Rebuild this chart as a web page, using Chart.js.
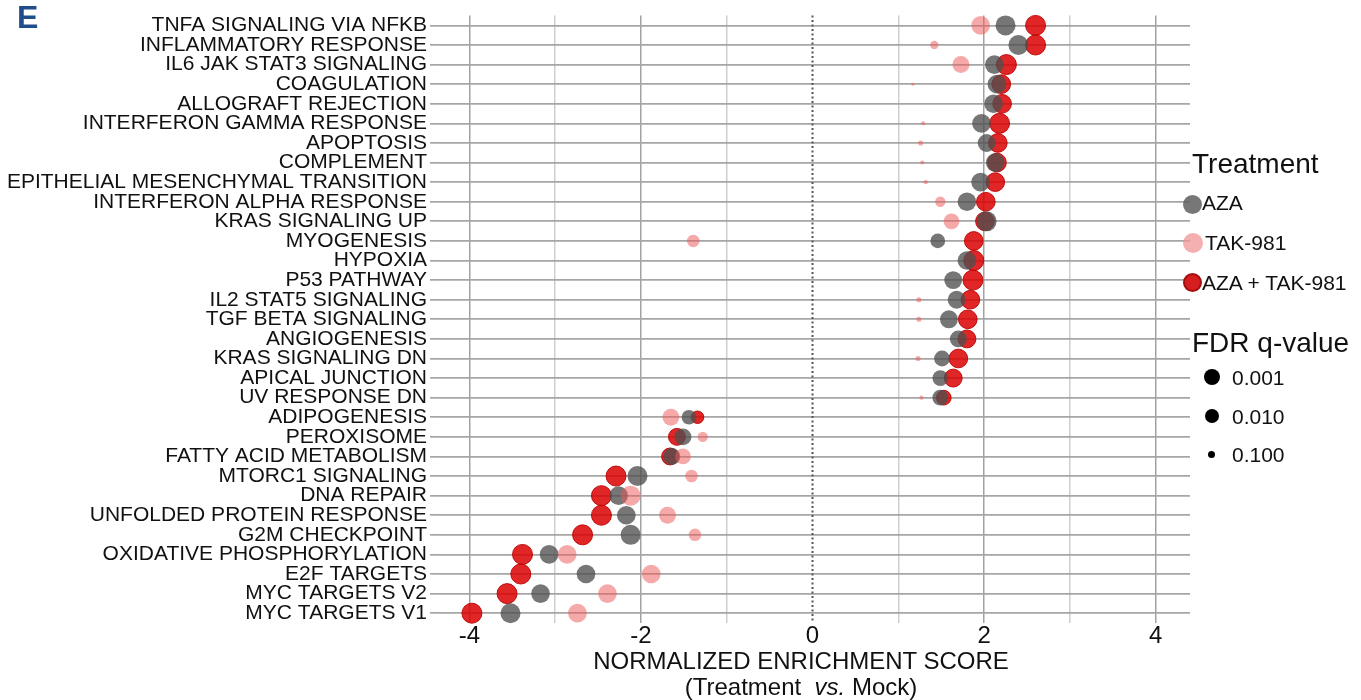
<!DOCTYPE html>
<html>
<head>
<meta charset="utf-8">
<script src="https://cdn.jsdelivr.net/npm/chart.js@4.4.1/dist/chart.umd.min.js"></script>
<style>
  html, body { margin: 0; padding: 0; background: #fff; }
  body { width: 1361px; height: 700px; position: relative; overflow: hidden;
         font-family: "Liberation Sans", Arial, sans-serif; color: #111; }
  #chart { position: absolute; left: 0; top: 0; }
  .abs { position: absolute; white-space: nowrap; }
  .panel { left: 17px; top: 0px; font-size: 32px; line-height: 34px; font-weight: bold; color: #1f4e8a; }
  .xtitle { left: 551px; width: 500px; top: 648px; text-align: center; font-size: 24px; line-height: 26px; }
  .lgtitle { font-size: 28px; line-height: 28px; left: 1192px; }
  .lgtext { font-size: 21px; line-height: 21px; }
  .dot { position: absolute; border-radius: 50%; box-sizing: border-box; }
</style>
</head>
<body>
<canvas id="chart" width="1361" height="700"></canvas>

<div class="abs panel">E</div>
<div class="abs xtitle">NORMALIZED ENRICHMENT SCORE<br>(Treatment&nbsp; <i>vs.</i> Mock)</div>

<div class="abs lgtitle" style="top:150px">Treatment</div>
<div class="dot" style="left:1183px; top:195px; width:19px; height:19px; background:rgba(95,95,95,0.85)"></div>
<div class="abs lgtext" style="left:1202px; top:192px">AZA</div>
<div class="dot" style="left:1183px; top:233px; width:20px; height:20px; background:rgba(240,150,150,0.75)"></div>
<div class="abs lgtext" style="left:1205px; top:232px">TAK-981</div>
<div class="dot" style="left:1183px; top:273px; width:19px; height:19px; background:rgb(214,30,30); border:2px solid rgb(165,15,15)"></div>
<div class="abs lgtext" style="left:1202px; top:272px">AZA + TAK-981</div>

<div class="abs lgtitle" style="top:329px">FDR q-value</div>
<div class="dot" style="left:1204px; top:369px; width:16px; height:16px; background:#000"></div>
<div class="abs lgtext" style="left:1232px; top:367px">0.001</div>
<div class="dot" style="left:1205px; top:409px; width:14px; height:14px; background:#000"></div>
<div class="abs lgtext" style="left:1232px; top:406px">0.010</div>
<div class="dot" style="left:1208px; top:451px; width:7px; height:7px; background:#000"></div>
<div class="abs lgtext" style="left:1232px; top:444px">0.100</div>

<script>
// hallmark gene sets, top to bottom
const pathways = [
  "TNFA SIGNALING VIA NFKB", "INFLAMMATORY RESPONSE", "IL6 JAK STAT3 SIGNALING",
  "COAGULATION", "ALLOGRAFT REJECTION", "INTERFERON GAMMA RESPONSE", "APOPTOSIS",
  "COMPLEMENT", "EPITHELIAL MESENCHYMAL TRANSITION", "INTERFERON ALPHA RESPONSE",
  "KRAS SIGNALING UP", "MYOGENESIS", "HYPOXIA", "P53 PATHWAY", "IL2 STAT5 SIGNALING",
  "TGF BETA SIGNALING", "ANGIOGENESIS", "KRAS SIGNALING DN", "APICAL JUNCTION",
  "UV RESPONSE DN", "ADIPOGENESIS", "PEROXISOME", "FATTY ACID METABOLISM",
  "MTORC1 SIGNALING", "DNA REPAIR", "UNFOLDED PROTEIN RESPONSE", "G2M CHECKPOINT",
  "OXIDATIVE PHOSPHORYLATION", "E2F TARGETS", "MYC TARGETS V2", "MYC TARGETS V1"
];

// NES and FDR q-values, null = not shown
const azaNES = [2.25, 2.40, 2.12, 2.15, 2.11, 1.97, 2.03, 2.13, 1.96, 1.80,
  2.03, 1.46, 1.80, 1.64, 1.68, 1.59, 1.70, 1.51, 1.49, 1.49,
  -1.44, -1.51, -1.64, -2.04, -2.26, -2.17, -2.12, -3.07, -2.64, -3.17, -3.52];
const azaFDR = [0.0001, 0.0001, 0.0002, 0.0002, 0.0002, 0.0002, 0.0003, 0.0002, 0.0002, 0.0002,
  0.0001, 0.0016, 0.0002, 0.0003, 0.0003, 0.0003, 0.0005, 0.0009, 0.0009, 0.0009,
  0.0016, 0.0005, 0.0005, 0.0001, 0.0002, 0.0002, 0.0001, 0.0002, 0.0002, 0.0002, 0.0001];

const takNES = [1.96, 1.42, 1.73, 1.17, null, 1.29, 1.26, 1.28, 1.32, 1.49,
  1.62, -1.39, null, null, 1.24, 1.24, null, 1.23, null, 1.27,
  -1.65, -1.28, -1.51, -1.41, -2.12, -1.69, -1.37, -2.86, -1.88, -2.39, -2.74];
const takFDR = [0.0002, 0.045, 0.0005, 0.72, null, 0.41, 0.24, 0.41, 0.41, 0.015,
  0.0009, 0.005, null, null, 0.24, 0.24, null, 0.24, null, 0.41,
  0.0005, 0.015, 0.0009, 0.005, 0.0001, 0.0005, 0.005, 0.0002, 0.0002, 0.0002, 0.0002];

const comboNES = [2.60, 2.60, 2.26, 2.20, 2.21, 2.18, 2.16, 2.15, 2.13, 2.02,
  2.01, 1.88, 1.88, 1.87, 1.84, 1.81, 1.80, 1.70, 1.64, 1.53,
  -1.34, -1.58, -1.66, -2.29, -2.46, -2.46, -2.68, -3.38, -3.40, -3.56, -3.97];
const comboFDR = [0.0001, 0.0001, 0.0001, 0.0002, 0.0002, 0.0001, 0.0002, 0.0002, 0.0002, 0.0002,
  0.0002, 0.0002, 0.0001, 0.0001, 0.0002, 0.0002, 0.0003, 0.0002, 0.0003, 0.0016,
  0.005, 0.0005, 0.0005, 0.0001, 0.0001, 0.0001, 0.0001, 0.0001, 0.0001, 0.0001, 0.0001];

const xLabelTicks = [-4, -2, 0, 2, 4];

// bubble radius grows with -log10(q), capped at q = 1e-4
function bubbleRadius(q) {
  const s = Math.min(4, -Math.log10(q));
  return 1.2 + 2.2 * s;
}

function toPoints(nes, fdr) {
  return pathways
    .map((p, i) => (nes[i] == null ? null : { x: nes[i], y: p, r: bubbleRadius(fdr[i]) }))
    .filter(Boolean);
}

const zeroLine = {
  id: "zeroLine",
  beforeDatasetsDraw(chart) {
    const { ctx, chartArea, scales } = chart;
    const x0 = scales.x.getPixelForValue(0);
    ctx.save();
    ctx.strokeStyle = "#555";
    ctx.lineWidth = 2;
    ctx.setLineDash([2, 2.5]);
    ctx.beginPath();
    ctx.moveTo(x0, chartArea.top);
    ctx.lineTo(x0, chartArea.bottom);
    ctx.stroke();
    ctx.restore();
  },
};

Chart.defaults.font.family = '"Liberation Sans", Arial, sans-serif';
Chart.defaults.color = "#111";

new Chart(document.getElementById("chart"), {
  type: "bubble",
  data: {
    datasets: [
      {
        label: "AZA",
        data: toPoints(azaNES, azaFDR),
        backgroundColor: "rgba(80,80,80,0.78)",
        borderWidth: 0,
        order: 1,
      },
      {
        label: "TAK-981",
        data: toPoints(takNES, takFDR),
        backgroundColor: "rgba(238,90,90,0.52)",
        borderWidth: 0,
        order: 0,
      },
      {
        label: "AZA + TAK-981",
        data: toPoints(comboNES, comboFDR),
        backgroundColor: "rgba(218,0,0,0.85)",
        borderColor: "rgba(185,0,0,0.9)",
        borderWidth: 1,
        order: 2,
      },
    ],
  },
  options: {
    responsive: false,
    animation: false,
    devicePixelRatio: 1,
    layout: { padding: { top: 12, right: 171, bottom: 0, left: 0 } },
    plugins: { legend: { display: false }, tooltip: { enabled: false } },
    scales: {
      x: {
        type: "linear",
        min: -4.4,
        max: 4.4,
        afterFit: (scale) => { scale.height = 77; },
        border: { display: false },
        grid: {
          drawTicks: false,
          lineWidth: 1.5,
          color: (ctx) => {
            const v = ctx.tick.value;
            if (v === 0) return "rgba(0,0,0,0)";
            return Math.abs(v) % 2 === 0 ? "#a2a2a2" : "#cfcfcf";
          },
        },
        ticks: {
          stepSize: 1,
          includeBounds: false,
          autoSkip: false,
          maxRotation: 0,
          padding: -1,
          font: { size: 24 },
          callback: (v) => (xLabelTicks.includes(v) ? String(v) : ""),
        },
      },
      y: {
        type: "category",
        labels: pathways,
        offset: true,
        afterFit: (scale) => { scale.width = 435; },
        border: { display: false },
        grid: { offset: false, color: "#a6a6a6", lineWidth: 1.7, tickLength: 5 },
        ticks: { autoSkip: false, padding: 3, font: { size: 21 } },
      },
    },
  },
  plugins: [zeroLine],
});
</script>
</body>
</html>
